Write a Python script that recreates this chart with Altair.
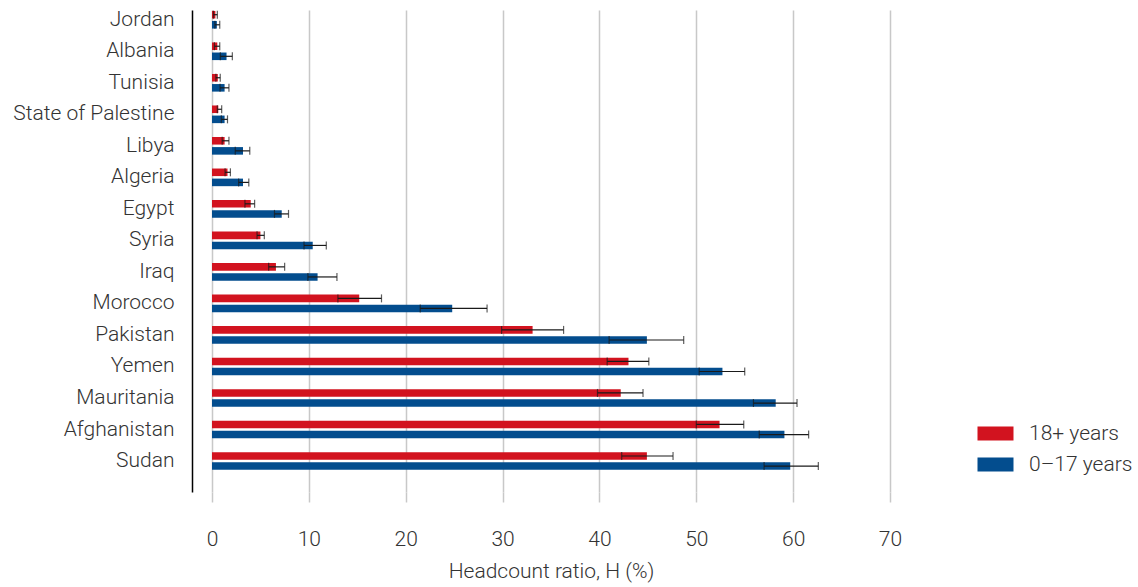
import altair as alt
import pandas as pd

# Countries from top to bottom
countries = [
    "Jordan", "Albania", "Tunisia", "State of Palestine", "Libya", "Algeria",
    "Egypt", "Syria", "Iraq", "Morocco", "Pakistan", "Yemen", "Mauritania",
    "Afghanistan", "Sudan",
]

# Headcount ratio (%) for adults, with confidence interval bounds
adult = [0.35, 0.55, 0.6, 0.65, 1.3, 1.6, 4.0, 5.0, 6.6, 15.2, 33.1, 43.0, 42.2, 52.4, 44.9]
adult_lo = [0.15, 0.25, 0.4, 0.55, 1.05, 1.35, 3.4, 4.65, 5.85, 13.0, 29.9, 40.8, 39.8, 50.0, 42.3]
adult_hi = [0.55, 0.8, 0.85, 1.0, 1.75, 1.9, 4.4, 5.4, 7.5, 17.5, 36.3, 45.1, 44.5, 54.9, 47.6]

# Headcount ratio (%) for children, with confidence interval bounds
child = [0.5, 1.5, 1.3, 1.3, 3.2, 3.2, 7.2, 10.4, 10.9, 24.8, 44.9, 52.7, 58.2, 59.1, 59.7]
child_lo = [0.3, 0.86, 0.83, 0.96, 2.4, 2.75, 6.45, 9.5, 9.9, 21.5, 41.0, 50.3, 55.9, 56.5, 57.0]
child_hi = [0.8, 2.1, 1.75, 1.6, 3.9, 3.8, 7.9, 11.8, 12.9, 28.4, 48.7, 55.0, 60.4, 61.6, 62.6]

groups = ["18+ years", "0–17 years"]
colors = ["#D2131F", "#034D8E"]
x_ticks = [0, 10, 20, 30, 40, 50, 60, 70]

rows = []
for i, c in enumerate(countries):
    rows.append({"country": c, "group": groups[0], "value": adult[i], "lo": adult_lo[i], "hi": adult_hi[i]})
    rows.append({"country": c, "group": groups[1], "value": child[i], "lo": child_lo[i], "hi": child_hi[i]})
df = pd.DataFrame(rows)

FONT = "Roboto"
TEXT = "#333333"
FS = 21
FW = 300

y_enc = alt.Y(
    "country:N",
    sort=countries,
    title=None,
    scale=alt.Scale(paddingInner=0.44, paddingOuter=0.366, align=0.04),
    axis=alt.Axis(
        domain=True, domainColor="#000000", domainWidth=1.5, ticks=False,
        grid=False, offset=20, labelPadding=18, labelFontSize=FS,
        labelFont=FONT, labelFontWeight=FW, labelColor=TEXT,
    ),
)
yoff = alt.YOffset("group:N", sort=groups, scale=alt.Scale(paddingInner=0.25, paddingOuter=0))

x_scale = alt.Scale(domain=[0, 70], nice=False)

bars = alt.Chart(df).mark_bar().encode(
    x=alt.X(
        "value:Q",
        scale=x_scale,
        title="Headcount ratio, H (%)",
        axis=alt.Axis(
            values=x_ticks, grid=True, gridColor="#c8c8c8", gridWidth=1.5,
            domain=False, ticks=True, tickColor="#c8c8c8", tickWidth=1.5,
            tickSize=10, labelPadding=26, labelFlush=False, labelFontSize=FS,
            labelFont=FONT, labelFontWeight=FW, labelColor=TEXT,
            titleFontSize=FS, titleFont=FONT, titleFontWeight=FW,
            titleColor=TEXT, titlePadding=11,
        ),
    ),
    y=y_enc,
    yOffset=yoff,
    color=alt.Color(
        "group:N",
        sort=groups,
        scale=alt.Scale(domain=groups, range=colors),
        legend=alt.Legend(
            title=None, orient="none", legendX=773, legendY=413,
            symbolType="M-2.571,-1H2.571V1H-2.571Z", symbolSize=196,
            symbolStrokeWidth=0, symbolOpacity=1, labelOffset=23,
            labelFontSize=FS, labelFont=FONT, labelFontWeight=FW,
            labelColor=TEXT, rowPadding=9, padding=0,
        ),
    ),
)

whisker = alt.Chart(df).mark_rule(color="#1a1a1a", strokeWidth=1.2).encode(
    x=alt.X("lo:Q", scale=x_scale),
    x2="hi:Q",
    y=alt.Y("country:N", sort=countries),
    yOffset=yoff,
)

cap_lo = alt.Chart(df).mark_tick(color="#1a1a1a", thickness=1.2, size=8).encode(
    x=alt.X("lo:Q", scale=x_scale),
    y=alt.Y("country:N", sort=countries),
    yOffset=yoff,
)
cap_hi = alt.Chart(df).mark_tick(color="#1a1a1a", thickness=1.2, size=8).encode(
    x=alt.X("hi:Q", scale=x_scale),
    y=alt.Y("country:N", sort=countries),
    yOffset=yoff,
)

chart = (
    alt.layer(bars, whisker, cap_lo, cap_hi)
    .properties(
        width=678,
        height=482,
        autosize=alt.AutoSizeParams(type="none"),
        padding={"left": 212, "top": 10, "right": 248, "bottom": 95},
        background="white",
    )
    .configure_view(strokeWidth=0)
)

chart.save("out.html", embed_options={"renderer": "svg", "actions": False})
